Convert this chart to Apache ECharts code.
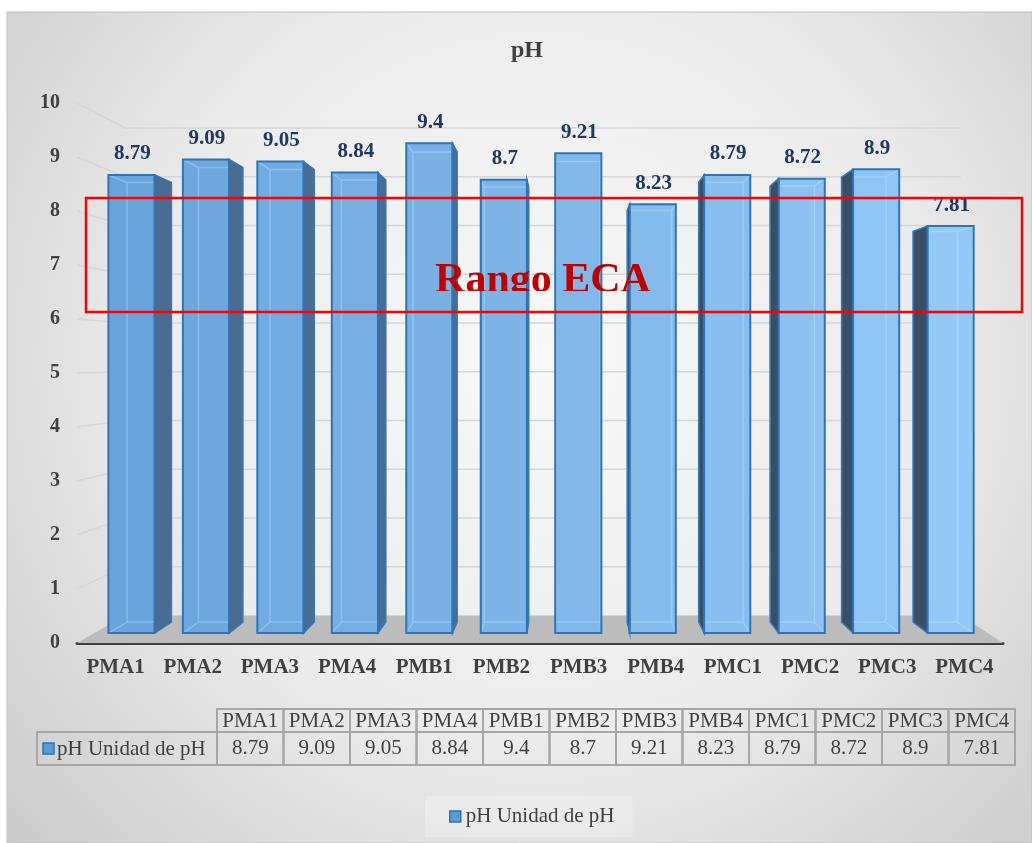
<!DOCTYPE html>
<html lang="es">
<head>
<meta charset="UTF-8">
<title>pH</title>
<script src="https://cdn.jsdelivr.net/npm/echarts@6/dist/echarts.min.js"></script>
<style>html,body{margin:0;background:#fff}</style>
</head>
<body>
<div id="main" style="width:1032px;height:843px;"></div>
<script>
const categories = ['PMA1', 'PMA2', 'PMA3', 'PMA4', 'PMB1', 'PMB2', 'PMB3', 'PMB4', 'PMC1', 'PMC2', 'PMC3', 'PMC4'];
const phValues = [8.79, 9.09, 9.05, 8.84, 9.4, 8.7, 9.21, 8.23, 8.79, 8.72, 8.9, 7.81];
const yTicks = [0, 1, 2, 3, 4, 5, 6, 7, 8, 9, 10];
const seriesName = 'pH Unidad de pH';
const serif = 'Liberation Serif';

// simple perspective: everything shrinks toward a vanishing point
const VX = 570, VY = 360;
const S_FRONT = 0.965, S_BACK = 0.926, S_WALL = 0.903;
function proj(x, y, s) { return [VX + (x - VX) * s, VY + (y - VY) * s]; }

function mix(c1, c2, t) {
  const a = c1.match(/\w\w/g).map(h => parseInt(h, 16));
  const b = c2.match(/\w\w/g).map(h => parseInt(h, 16));
  return 'rgb(' + a.map((v, k) => Math.round(v + (b[k] - v) * t)).join(',') + ')';
}

function renderWall(params, api) {
  const v = api.value(1);
  const cs = params.coordSys;
  const y = api.coord([0, v])[1];
  const x0 = cs.x, x1 = cs.x + cs.width;
  const b = proj(x0, y, S_WALL), c = proj(x1, y, S_WALL);
  if (v === 0) {
    return { type: 'polygon', shape: { points: [[x0, y], [x1, y], c, b] }, style: { fill: '#bcbcbc' } };
  }
  return { type: 'polyline', shape: { points: [[x0, y], b, c] }, style: { stroke: '#d6d6d6', lineWidth: 1.5, fill: null } };
}

function renderBar(params, api) {
  const i = api.value(0), v = api.value(1);
  const base = api.coord([i, 0]);
  const top = api.coord([i, v]);
  const hw = api.size([1, 0])[0] * 0.31;
  const xl = base[0] - hw, xr = base[0] + hw;
  const fTL = proj(xl, top[1], S_FRONT), fTR = proj(xr, top[1], S_FRONT);
  const fBL = proj(xl, base[1], S_FRONT), fBR = proj(xr, base[1], S_FRONT);
  const bTL = proj(xl, top[1], S_BACK), bTR = proj(xr, top[1], S_BACK);
  const bBL = proj(xl, base[1], S_BACK), bBR = proj(xr, base[1], S_BACK);
  const t = i / (categories.length - 1);
  const fill = mix('6ba4da', '93c8f7', t);
  const inner = mix('85bbea', 'a6d3fa', t);
  const children = [];
  children.push({
    type: 'polygon', shape: { points: [fTL, fTR, fBR, fBL] },
    style: { fill: fill, stroke: null }
  });
  const edges = [[bTL, bTR], [bTL, bBL], [bBL, bBR], [bTR, bBR], [fTL, bTL], [fBL, bBL], [fTR, bTR], [fBR, bBR]];
  edges.forEach(e => children.push({
    type: 'line', shape: { x1: e[0][0], y1: e[0][1], x2: e[1][0], y2: e[1][1] },
    style: { stroke: inner, lineWidth: 1.5 }
  }));
  if (xr < VX) {
    children.push({
      type: 'polygon', shape: { points: [fTR, bTR, bBR, fBR] },
      style: { fill: '#4a6c90', stroke: '#3a78b5', lineWidth: 1.5 }
    });
  } else if (xl > VX) {
    children.push({
      type: 'polygon', shape: { points: [bTL, fTL, fBL, bBL] },
      style: { fill: '#3a4e66', stroke: '#3a78b5', lineWidth: 1.5 }
    });
  }
  children.push({
    type: 'polygon', shape: { points: [fTL, fTR, fBR, fBL] },
    style: { fill: null, stroke: '#2e75b6', lineWidth: 2 }
  });
  const lab = proj(base[0], top[1], S_FRONT);
  children.push({
    type: 'text',
    style: {
      text: String(v), x: lab[0] + 1, y: lab[1] - 21, align: 'center', verticalAlign: 'middle',
      font: 'bold 21px "' + serif + '"', fill: '#1f3864'
    }
  });
  return { type: 'group', children: children };
}

// red "Rango ECA" box, text cut at its baseline as in the source
function renderNote(params, api) {
  return {
    type: 'group',
    children: [
      {
        type: 'rect', shape: { x: 86, y: 198, width: 936, height: 114 },
        style: { fill: null, stroke: '#ff0000', lineWidth: 2.5 }
      },
      {
        type: 'group',
        clipPath: { type: 'rect', shape: { x: 300, y: 200, width: 500, height: 91 } },
        children: [{
          type: 'text',
          style: { text: 'Rango ECA', x: 543, y: 302, align: 'center', verticalAlign: 'bottom', font: 'bold 42px "' + serif + '"', fill: '#c00000' }
        }]
      }
    ]
  };
}

function renderTable(params, api) {
  const i = api.value(0), v = api.value(1);
  const cs = params.coordSys;
  const x = api.coord([i, 0])[0];
  const w = api.size([1, 0])[0];
  const hh = 23, dh = 33;
  const cell = { fill: null, stroke: '#a6a6a6', lineWidth: 2 };
  const font = '21px "' + serif + '"';
  return {
    type: 'group',
    children: [
      { type: 'rect', shape: { x: x - w / 2, y: cs.y, width: w, height: hh }, style: cell },
      { type: 'rect', shape: { x: x - w / 2, y: cs.y + hh, width: w, height: dh }, style: cell },
      { type: 'text', style: { text: categories[i], x: x, y: cs.y + hh / 2 + 1, align: 'center', verticalAlign: 'middle', font: font, fill: '#404040' } },
      { type: 'text', style: { text: String(v), x: x, y: cs.y + hh + dh / 2, align: 'center', verticalAlign: 'middle', font: font, fill: '#404040' } }
    ]
  };
}

const chart = echarts.init(document.getElementById('main'));
chart.setOption({
  animation: false,
  title: {
    text: 'pH', left: 522, top: 34, textAlign: 'center',
    textStyle: { fontFamily: serif, fontWeight: 'bold', fontSize: 24, color: '#404040' }
  },
  legend: {
    data: [{ name: seriesName, icon: 'rect', itemStyle: { color: '#5b9bd5', borderColor: '#2e75b6', borderWidth: 1.5 } }],
    left: 425, top: 796, itemWidth: 11, itemHeight: 11,
    padding: [10, 18, 10, 24],
    backgroundColor: 'rgba(255,255,255,0.22)',
    textStyle: { fontFamily: serif, fontSize: 21, color: '#404040' }
  },
  grid: [
    { left: 77, right: 29, top: 103, bottom: 200 },
    { left: 217, right: 17, top: 709, height: 56 }
  ],
  xAxis: [
    {
      type: 'category', data: categories, gridIndex: 0,
      axisLine: { lineStyle: { color: '#404040', width: 3 } },
      axisTick: { show: false },
      axisLabel: { margin: 14, fontFamily: serif, fontWeight: 'bold', fontSize: 21, color: '#404040' }
    },
    { type: 'category', data: categories, gridIndex: 1, show: false }
  ],
  yAxis: [
    {
      type: 'value', min: 0, max: 10, interval: 1, gridIndex: 0,
      axisLine: { show: false }, axisTick: { show: false }, splitLine: { show: false },
      axisLabel: { margin: 17, fontFamily: serif, fontWeight: 'bold', fontSize: 20, color: '#404040' }
    },
    { type: 'value', min: 0, max: 1, gridIndex: 1, show: false }
  ],
  graphic: [
    {
      type: 'rect', z: -10, silent: true,
      shape: { x: 7, y: 12, width: 1025, height: 831 },
      style: {
        stroke: '#c0c0c0', lineWidth: 1,
        fill: {
          type: 'radial', x: 0.52, y: 0.42, r: 0.9,
          colorStops: [
            { offset: 0, color: '#f8f8f8' },
            { offset: 0.5, color: '#ececec' },
            { offset: 1, color: '#c8c8c8' }
          ]
        }
      }
    },
    {
      type: 'rect', z: 10, silent: true,
      shape: { x: 37, y: 732, width: 180, height: 33 },
      style: { fill: null, stroke: '#a6a6a6', lineWidth: 2 }
    },
    {
      type: 'rect', z: 10, silent: true,
      shape: { x: 43, y: 743, width: 11, height: 11 },
      style: { fill: '#5b9bd5', stroke: '#2e75b6', lineWidth: 1.5 }
    },
    {
      type: 'text', z: 10, silent: true, x: 57, y: 749,
      style: { text: seriesName, verticalAlign: 'middle', font: '21px "' + serif + '"', fill: '#404040' }
    }
  ],
  series: [
    {
      type: 'custom', name: 'paredes', xAxisIndex: 0, yAxisIndex: 0, z: 1, silent: true,
      renderItem: renderWall,
      data: yTicks.map(v => [0, v])
    },
    {
      type: 'custom', name: seriesName, xAxisIndex: 0, yAxisIndex: 0, z: 3,
      itemStyle: { color: '#5b9bd5' },
      renderItem: renderBar,
      data: phValues.map((v, i) => [i, v])
    },
    {
      type: 'custom', name: 'anotacion', xAxisIndex: 0, yAxisIndex: 0, z: 5, silent: true,
      renderItem: renderNote,
      data: [[0, 0]]
    },
    {
      type: 'custom', name: 'tabla', xAxisIndex: 1, yAxisIndex: 1, z: 3, silent: true,
      renderItem: renderTable,
      data: phValues.map((v, i) => [i, v])
    }
  ]
});
</script>
</body>
</html>
